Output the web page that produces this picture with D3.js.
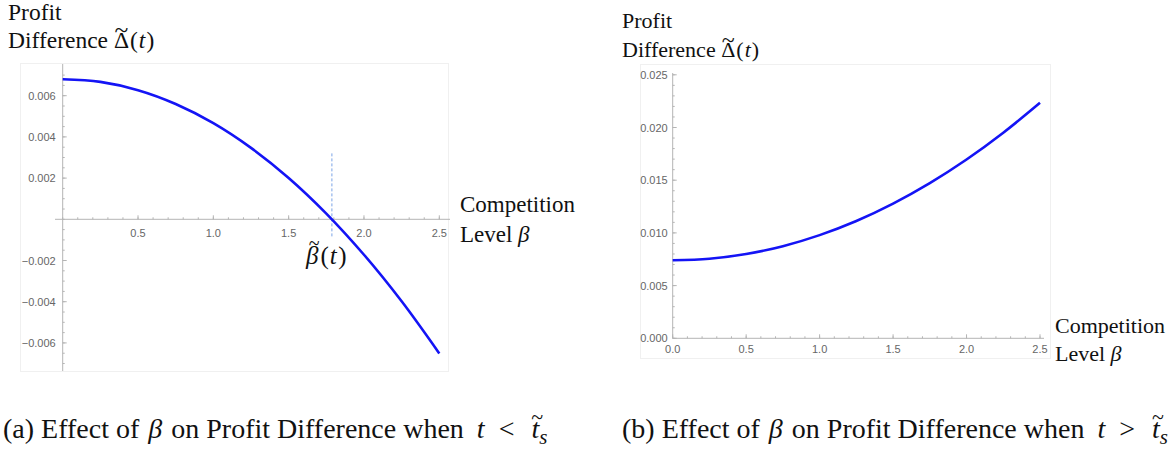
<!DOCTYPE html>
<html>
<head>
<meta charset="utf-8">
<script src="https://cdn.jsdelivr.net/npm/d3@7/dist/d3.min.js"></script>
<style>
  html, body { margin: 0; padding: 0; background: #fff; }
  svg { display: block; }
  .tick-label { font-family: "Liberation Sans", Arial, sans-serif; font-size: 11px; fill: #666; }
  .serif { font-family: "Liberation Serif", "Times New Roman", serif; fill: #111; }
</style>
</head>
<body>
<svg id="fig" width="1173" height="452"></svg>
<script>
// Competition level grid (shared by both panels)
const beta = [0, 0.25, 0.5, 0.75, 1.0, 1.25, 1.5, 1.75, 2.0, 2.25, 2.5];

// Profit difference when t < t_s (panel a)
const diffBelow = [0.0068, 0.00667, 0.00627, 0.0056, 0.00467, 0.00347, 0.00201, 0.00028, -0.00172, -0.00398, -0.00651];

// Profit difference when t > t_s (panel b)
const diffAbove = [0.0074, 0.00755, 0.0080, 0.00874, 0.00979, 0.01113, 0.01278, 0.01472, 0.01696, 0.0195, 0.02234];

// Threshold competition level where the difference changes sign, with the dashed guide's extent
const betaTilde = 1.787;
const guideRange = [-0.00085, 0.0032];

// Tick values
const xTicks = [0.5, 1.0, 1.5, 2.0, 2.5];
const xTicksB = [0.0, 0.5, 1.0, 1.5, 2.0, 2.5];
const yTicksA = [-0.006, -0.004, -0.002, 0.002, 0.004, 0.006];
const yTicksB = [0.000, 0.005, 0.010, 0.015, 0.020, 0.025];

const svg = d3.select("#fig");
const lineColor = "#1414f5";
const axisColor = "#b4b4b4";

function minorTicks(lo, hi, step) {
  const out = [];
  const n = Math.round((hi - lo) / step);
  for (let i = 0; i <= n; i++) out.push(lo + i * step);
  return out;
}

// Mathematica-style crossing axes with inward ticks
function drawAxes(g, x, y, opts) {
  const x0 = x(0), y0 = y(0);
  g.append("rect")
    .attr("x", opts.frame[0]).attr("y", opts.frame[1])
    .attr("width", opts.frame[2] - opts.frame[0]).attr("height", opts.frame[3] - opts.frame[1])
    .attr("fill", "none").attr("stroke", "#f0f0f0").attr("stroke-width", 1);

  g.append("line")
    .attr("x1", opts.xAxisExtent[0]).attr("x2", opts.xAxisExtent[1])
    .attr("y1", y0).attr("y2", y0)
    .attr("stroke", axisColor).attr("stroke-width", 1);
  g.append("line")
    .attr("x1", x0).attr("x2", x0)
    .attr("y1", opts.yAxisExtent[0]).attr("y2", opts.yAxisExtent[1])
    .attr("stroke", axisColor).attr("stroke-width", 1);

  g.selectAll(null).data(minorTicks(0, 2.5, 0.1)).join("line")
    .attr("x1", d => x(d)).attr("x2", d => x(d))
    .attr("y1", y0).attr("y2", y0 - 2)
    .attr("stroke", axisColor);
  g.selectAll(null).data(opts.xTicks).join("line")
    .attr("x1", d => x(d)).attr("x2", d => x(d))
    .attr("y1", y0).attr("y2", y0 - 4)
    .attr("stroke", axisColor);
  g.selectAll(null).data(opts.xTicks).join("text")
    .attr("class", "tick-label")
    .attr("x", d => x(d))
    .attr("y", y0 + opts.xLabelDy)
    .attr("text-anchor", "middle")
    .text(d => d.toFixed(1));

  g.selectAll(null).data(opts.yMinor).join("line")
    .attr("x1", x0).attr("x2", x0 + 2)
    .attr("y1", d => y(d)).attr("y2", d => y(d))
    .attr("stroke", axisColor);
  g.selectAll(null).data(opts.yTicks).join("line")
    .attr("x1", x0).attr("x2", x0 + 4)
    .attr("y1", d => y(d)).attr("y2", d => y(d))
    .attr("stroke", axisColor);
  g.selectAll(null).data(opts.yTicks).join("text")
    .attr("class", "tick-label")
    .attr("x", x0 - opts.yLabelGap)
    .attr("y", d => y(d) + 4)
    .attr("text-anchor", "end")
    .text(d => (d < 0 ? "\u2212" : "") + Math.abs(d).toFixed(3));
}

// Serif text made of parts; parts flagged with `tilde` get a tilde accent
// (an absolutely positioned tspan of the same text) above their glyph
function mathText(g, x, y, size, parts) {
  const t = g.append("text").attr("class", "serif").attr("x", x).attr("y", y).attr("font-size", size);
  let idx = 0;
  const accents = [];
  parts.forEach(p => {
    const s = t.append("tspan").text(p.text);
    if (p.italic) s.attr("font-style", "italic");
    if (p.dx) s.attr("dx", p.dx);
    if (p.size) s.attr("font-size", p.size);
    if (p.dy) s.attr("dy", p.dy);
    if (p.tilde) accents.push({ idx, p });
    idx += p.text.length;
  });
  accents.forEach(({ idx, p }) => {
    const box = t.node().getExtentOfChar(idx);
    t.append("tspan")
      .attr("x", box.x + box.width / 2 + (p.tilde.shift || 0))
      .attr("y", y - p.tilde.rise)
      .attr("text-anchor", "middle")
      .attr("font-size", p.tilde.size)
      .text("~");
  });
  return t;
}

function profitLabel(g, xPos, y1, y2, size) {
  g.append("text").attr("class", "serif").attr("x", xPos).attr("y", y1).attr("font-size", size).text("Profit");
  mathText(g, xPos, y2, size, [
    { text: "Difference " },
    { text: "\u0394", tilde: { size: size + 2, rise: size * 0.43, shift: 0 } },
    { text: "(", dx: 1 },
    { text: "t", italic: true, dx: 1 },
    { text: ")", dx: 1 }
  ]);
}

function competitionLabel(g, xPos, y1, y2, size) {
  g.append("text").attr("class", "serif").attr("x", xPos).attr("y", y1).attr("font-size", size).text("Competition");
  mathText(g, xPos, y2, size, [
    { text: "Level " },
    { text: "\u03B2", italic: true }
  ]);
}

const line = (x, y) => d3.line().x((d, i) => x(beta[i])).y(d => y(d)).curve(d3.curveCatmullRom.alpha(0.5));

// ---------- Panel (a) ----------
const gA = svg.append("g");
const xA = d3.scaleLinear().domain([0, 2.5]).range([62.7, 439.3]);
const yA = d3.scaleLinear().domain([-0.0073, 0.0075]).range([369.7, 64.8]);

drawAxes(gA, xA, yA, {
  frame: [20.5, 63.5, 448.5, 371.5],
  xAxisExtent: [55, 450],
  yAxisExtent: [64, 371],
  xTicks: xTicks,
  yTicks: yTicksA,
  yMinor: minorTicks(-0.007, 0.007, 0.0005),
  yLabelGap: 7,
  xLabelDy: 18
});

// dashed guide at the sign change
gA.append("line")
  .attr("x1", xA(betaTilde)).attr("x2", xA(betaTilde))
  .attr("y1", yA(guideRange[1])).attr("y2", yA(guideRange[0]))
  .attr("stroke", "#7aa3e6").attr("stroke-width", 1).attr("stroke-dasharray", "3,2");

gA.append("path").datum(diffBelow)
  .attr("d", line(xA, yA))
  .attr("fill", "none").attr("stroke", lineColor).attr("stroke-width", 2.6);

profitLabel(gA, 8, 20, 48, 23.5);
competitionLabel(gA, 460, 212, 242, 23);

mathText(gA, 306, 264, 25, [
  { text: "\u03B2", italic: true, tilde: { size: 20, rise: 14, shift: 2 } },
  { text: "(", dx: 2 },
  { text: "t", italic: true, dx: 1 },
  { text: ")", dx: 1.5 }
]);

// ---------- Panel (b) ----------
const gB = svg.append("g");
const xB = d3.scaleLinear().domain([0, 2.5]).range([672.7, 1040]);
const yB = d3.scaleLinear().domain([0, 0.025]).range([338.3, 74.8]);

drawAxes(gB, xB, yB, {
  frame: [640.5, 64.5, 1050.5, 358.5],
  xAxisExtent: [672.7, 1044],
  yAxisExtent: [73, 338.3],
  xTicks: xTicksB,
  yTicks: yTicksB,
  yMinor: minorTicks(0, 0.025, 0.001),
  yLabelGap: 5,
  xLabelDy: 15
});

gB.append("path").datum(diffAbove)
  .attr("d", line(xB, yB))
  .attr("fill", "none").attr("stroke", lineColor).attr("stroke-width", 2.6);

profitLabel(gB, 622, 28, 57, 22);
competitionLabel(gB, 1055, 333, 361, 22);

// ---------- Captions ----------
function caption(xPos, letter, rel) {
  mathText(svg, xPos, 438, 28, [
    { text: "(" + letter + ") Effect of " },
    { text: "\u03B2", italic: true, dx: 2 },
    { text: " on Profit Difference when ", dx: 2 },
    { text: "t", italic: true, dx: 6 },
    { text: rel, dx: 14 },
    { text: "t", italic: true, dx: 17, tilde: { size: 22, rise: 14, shift: 2 } },
    { text: "s", italic: true, size: 21, dy: 6 }
  ]);
}
caption(3, "a", "<");
caption(622, "b", ">");
</script>
</body>
</html>
